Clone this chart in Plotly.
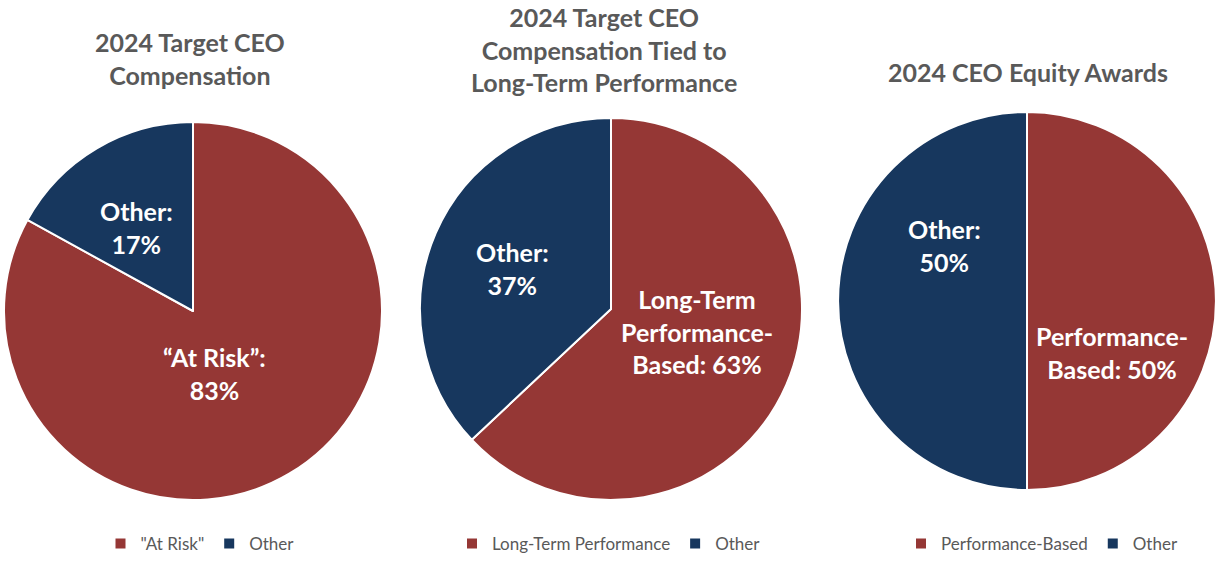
import plotly.graph_objects as go

W, H = 1219, 572

# ---- data ----
titles = ["2024 Target CEO<br>Compensation",
          "2024 Target CEO<br>Compensation Tied to<br>Long-Term Performance",
          "2024 CEO Equity Awards"]
labels1 = ['"At Risk"', "Other"]
values1 = [83, 17]
labels2 = ["Long-Term Performance", "Other"]
values2 = [63, 37]
labels3 = ["Performance-Based", "Other"]
values3 = [50, 50]
slice_text1 = ["\u201cAt Risk\u201d:<br>83%", "Other:<br>17%"]
slice_text2 = ["Long-Term<br>Performance-<br>Based: 63%", "Other:<br>37%"]
slice_text3 = ["Performance-<br>Based: 50%", "Other:<br>50%"]

RED = "#953735"
NAVY = "#17375E"
GREY = "#595959"
FONT = "Lato"

# ---- layout constants (pixels) ----
pie_boxes = [(4, 382, 122, 500), (420, 802, 118, 500), (838, 1216, 112, 490)]
title_pos = [(190, 59), (604, 50), (1028, 72)]
legend_x = [200, 609, 1042]
legend_y = 544
text_pos = [[(214, 373), (136, 227)],
            [(697, 331), (512, 269)],
            [(1112, 353), (944, 245)]]


def px(x):
    return x / W


def py(y):
    return 1 - y / H


fig = go.Figure()
series = [(labels1, values1), (labels2, values2), (labels3, values3)]
legends = ["legend", "legend2", "legend3"]
for i, (lab, val) in enumerate(series):
    x0, x1, y0, y1 = pie_boxes[i]
    fig.add_trace(go.Pie(
        labels=lab, values=val, sort=False, direction="clockwise", rotation=0,
        marker=dict(colors=[RED, NAVY], line=dict(color="white", width=2)),
        textinfo="none", hoverinfo="label+percent",
        domain=dict(x=[px(x0), px(x1)], y=[py(y1), py(y0)]),
        legend=legends[i], showlegend=True,
        legendgroup="g%d" % i,
    ))

annotations = []
for i, t in enumerate(titles):
    annotations.append(dict(
        text="<b>%s</b>" % t, x=px(title_pos[i][0]), y=py(title_pos[i][1]),
        xref="paper", yref="paper", xanchor="center", yanchor="middle",
        showarrow=False, font=dict(family=FONT, size=25, color=GREY)))

all_text = [slice_text1, slice_text2, slice_text3]
for i, texts in enumerate(all_text):
    for j, t in enumerate(texts):
        annotations.append(dict(
            text="<b>%s</b>" % t, x=px(text_pos[i][j][0]), y=py(text_pos[i][j][1]),
            xref="paper", yref="paper", xanchor="center", yanchor="middle",
            showarrow=False, align="center",
            font=dict(family=FONT, size=25, color="white")))

leg_common = dict(orientation="h", xanchor="center", yanchor="middle",
                  y=py(legend_y), font=dict(family=FONT, size=17, color=GREY),
                  bgcolor="rgba(0,0,0,0)", itemsizing="constant",
                  traceorder="normal")

fig.update_layout(
    width=W, height=H, margin=dict(l=0, r=0, t=0, b=0),
    paper_bgcolor="white", plot_bgcolor="white",
    font=dict(family=FONT),
    annotations=annotations,
    legend=dict(x=px(legend_x[0]), **leg_common),
    legend2=dict(x=px(legend_x[1]), **leg_common),
    legend3=dict(x=px(legend_x[2]), **leg_common),
)

fig.write_html("out.html", config={"displayModeBar": False},
               post_script="document.body.style.margin='0';document.body.style.overflow='hidden';")
